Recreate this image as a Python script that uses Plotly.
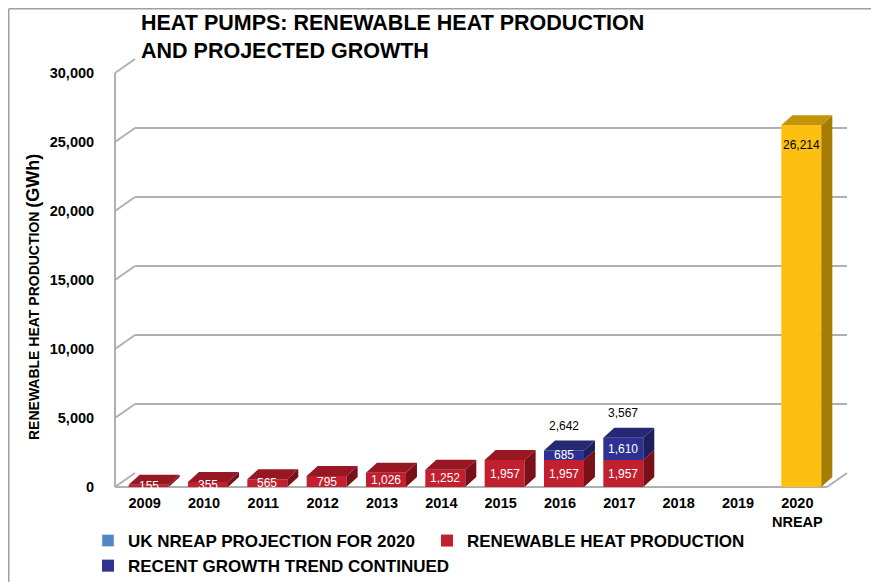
import plotly.graph_objects as go

# ---------------- data ----------------
years = ["2009", "2010", "2011", "2012", "2013", "2014", "2015", "2016", "2017", "2018", "2019", "2020<br>NREAP"]
production = [155, 355, 565, 795, 1026, 1252, 1957, 1957, 1957]          # 2009-2017
growth_years_idx = [7, 8]                                                 # 2016, 2017
growth = [685, 1610]
nreap_idx = [11]
nreap = [26214]
y_ticks = [0, 5000, 10000, 15000, 20000, 25000, 30000]

# ---------------- geometry / style ----------------
# the page body adds an 8px offset, so the figure is 8px smaller than the window
W, H = 871, 574
ML, MR, MT, MB = 107, 32, 51, 95
PW, PH = W - ML - MR, H - MT - MB          # 732 x 428
WALL_DX, WALL_DY = 20, 14                  # 3-D wall depth (px)
FRONT_W, FRONT_H = PW - WALL_DX, PH - WALL_DY
NCAT = len(years)
PX_X = FRONT_W / NCAT                      # px per category
YMAX = 30000
PX_Y = FRONT_H / YMAX                      # px per unit
BAR_W, BAR_OFF = 0.674, -0.27
BAR_DX = 11 / PX_X
BAR_DY = 10 / PX_Y

RED = ("#C3202F", "#7A1019", "#971723")
BLUE = ("#2E3192", "#1D1F5F", "#262874")
GOLD = ("#FDBF10", "#A67C03", "#C39405")
LEG_NREAP = "#4F86C6"
GRID = "#b0b0b0"
FONT = "Liberation Sans, Arial, sans-serif"

fig = go.Figure()

# dummy trace to materialise the back-wall axes (gridlines)
fig.add_trace(go.Scatter(x=[0], y=[0], xaxis="x", yaxis="y", mode="markers",
                         marker=dict(opacity=0), hoverinfo="skip", showlegend=False))

prod_x = list(range(len(production)))
growth_base = [production[i] for i in growth_years_idx]

# front faces
fig.add_trace(go.Bar(x=[None], y=[None], name="UK NREAP PROJECTION FOR 2020",
                     marker_color=LEG_NREAP, xaxis="x2", yaxis="y2", legendrank=1))
fig.add_trace(go.Bar(x=prod_x, y=production, name="RENEWABLE HEAT PRODUCTION",
                     marker=dict(color=RED[0], line=dict(width=0)), width=BAR_W, offset=BAR_OFF,
                     xaxis="x2", yaxis="y2", legendrank=2, hoverinfo="y"))
fig.add_trace(go.Bar(x=growth_years_idx, y=growth, base=growth_base, name="RECENT GROWTH TREND CONTINUED",
                     marker=dict(color=BLUE[0], line=dict(width=0)), width=BAR_W, offset=BAR_OFF,
                     xaxis="x2", yaxis="y2", legendrank=3, hoverinfo="y"))
fig.add_trace(go.Bar(x=nreap_idx, y=nreap, name="UK NREAP PROJECTION FOR 2020 ",
                     marker=dict(color=GOLD[0], line=dict(width=0)), width=BAR_W, offset=BAR_OFF,
                     xaxis="x2", yaxis="y2", showlegend=False, hoverinfo="y"))


def faces(xs, bases, tops, draw_top):
    sx, sy, tx, ty = [], [], [], []
    for x, b, t, dt in zip(xs, bases, tops, draw_top):
        x0 = x + BAR_OFF
        x1 = x0 + BAR_W
        sx += [x1, x1 + BAR_DX, x1 + BAR_DX, x1, x1, None]
        sy += [b, b + BAR_DY, t + BAR_DY, t, b, None]
        if dt:
            tx += [x0, x0 + BAR_DX, x1 + BAR_DX, x1, x0, None]
            ty += [t, t + BAR_DY, t + BAR_DY, t, t, None]
    return sx, sy, tx, ty


def add_faces(xs, bases, tops, draw_top, col):
    sx, sy, tx, ty = faces(xs, bases, tops, draw_top)
    fig.add_trace(go.Scatter(x=sx, y=sy, fill="toself", fillcolor=col[1], mode="lines",
                             line=dict(width=0, color=col[1]), xaxis="x2", yaxis="y2",
                             hoverinfo="skip", showlegend=False))
    if tx:
        fig.add_trace(go.Scatter(x=tx, y=ty, fill="toself", fillcolor=col[2], mode="lines",
                                 line=dict(width=0, color=col[2]), xaxis="x2", yaxis="y2",
                                 hoverinfo="skip", showlegend=False))


add_faces(prod_x, [0] * len(production), production,
          [i not in growth_years_idx for i in prod_x], RED)
add_faces(growth_years_idx, growth_base, [b + g for b, g in zip(growth_base, growth)],
          [True] * len(growth), BLUE)
add_faces(nreap_idx, [0], nreap, [True], GOLD)

# ---------------- labels ----------------
ann = []
cx = BAR_OFF + BAR_W / 2
for i, v in zip(prod_x, production):
    ann.append(dict(x=i + cx, y=v / 2, xref="x2", yref="y2", text=f"{v:,}", showarrow=False,
                    font=dict(family=FONT, size=12, color="white")))
for i, b, g in zip(growth_years_idx, growth_base, growth):
    ann.append(dict(x=i + cx, y=b + g / 2, xref="x2", yref="y2", text=f"{g:,}", showarrow=False,
                    font=dict(family=FONT, size=12, color="white")))
    ann.append(dict(x=i + cx, y=b + g, xref="x2", yref="y2", text=f"{b + g:,}", showarrow=False,
                    yshift=25, font=dict(family=FONT, size=12, color="black")))
for i, v in zip(nreap_idx, nreap):
    ann.append(dict(x=i + cx, y=v, xref="x2", yref="y2", text=f"{v:,}", showarrow=False,
                    yshift=-20, font=dict(family=FONT, size=12, color="black")))

# y-axis title
ann.append(dict(x=(25 - ML) / PW, y=(H - MB - 289) / PH, xref="paper", yref="paper",
                textangle=-90, showarrow=False, xanchor="center", yanchor="middle",
                text="<b>RENEWABLE HEAT PRODUCTION <span style='font-size:18px'>(GWh)</span></b>",
                font=dict(family=FONT, size=14, color="black")))

# ---------------- wall / floor edges ----------------
fx = FRONT_W / PW
fy = FRONT_H / PH
wdx = WALL_DX / PW
wdy = WALL_DY / PH
line = dict(color=GRID, width=2)
shapes = []
for t in y_ticks:
    yf = t / YMAX * fy
    shapes.append(dict(type="line", xref="paper", yref="paper", x0=0, y0=yf, x1=wdx, y1=yf + wdy,
                       line=line, layer="below"))
shapes += [
    dict(type="line", xref="paper", yref="paper", x0=0, y0=0, x1=0, y1=fy, line=line, layer="below"),
    dict(type="line", xref="paper", yref="paper", x0=0, y0=0, x1=fx, y1=0, line=line, layer="below"),
    dict(type="line", xref="paper", yref="paper", x0=fx, y0=0, x1=1, y1=wdy, line=line, layer="below"),
    # outer frame (left and top edges)
    dict(type="line", xref="paper", yref="paper", x0=(0.75 - ML) / PW, y0=(H - MB - 0.75) / PH,
         x1=(W - ML) / PW, y1=(H - MB - 0.75) / PH, line=dict(color="#a0a0a0", width=1.5)),
    dict(type="line", xref="paper", yref="paper", x0=(0.75 - ML) / PW, y0=(H - MB - 0.75) / PH,
         x1=(0.75 - ML) / PW, y1=-MB / PH, line=dict(color="#a0a0a0", width=1.5)),
]

fig.update_layout(
    width=W, height=H,
    margin=dict(l=ML, r=MR, t=MT, b=MB, autoexpand=False),
    paper_bgcolor="white", plot_bgcolor="rgba(0,0,0,0)",
    barmode="overlay",
    font=dict(family=FONT, color="black"),
    title=dict(text="<b>HEAT PUMPS: RENEWABLE HEAT PRODUCTION<br>AND PROJECTED GROWTH</b>",
               font=dict(family=FONT, size=21.5, color="black"),
               xref="container", x=133 / W, xanchor="left",
               yref="container", y=1 - 22 / H, yanchor="top"),
    # back wall axes (gridlines only)
    xaxis=dict(domain=[wdx, 1], anchor="y", range=[-0.5, NCAT - 0.5], visible=False),
    yaxis=dict(domain=[wdy, 1], anchor="x", range=[0, YMAX], tickvals=y_ticks,
               showgrid=True, gridcolor=GRID, gridwidth=2, zeroline=False,
               showticklabels=False, showline=False, ticks=""),
    # front axes (bars, tick labels)
    xaxis2=dict(domain=[0, 1], anchor="y2", range=[-0.5, -0.5 + PW / PX_X],
                tickvals=list(range(NCAT)), ticktext=[f"<b>{y}</b>" for y in years],
                tickfont=dict(family=FONT, size=14.5, color="black"),
                showgrid=False, zeroline=False, showline=False,
                ticks="outside", ticklen=3, tickcolor="rgba(0,0,0,0)"),
    yaxis2=dict(domain=[0, 1], anchor="x2", range=[0, YMAX * PH / FRONT_H],
                tickvals=y_ticks, ticktext=[f"<b>{t:,}</b>" for t in y_ticks],
                tickfont=dict(family=FONT, size=14.5, color="black"),
                showgrid=False, zeroline=False, showline=False,
                ticks="outside", ticklen=17, tickcolor="rgba(0,0,0,0)"),
    legend=dict(orientation="h", x=(80 - ML) / PW, xanchor="left",
                y=(H - MB - 515) / PH, yanchor="top",
                font=dict(family=FONT, size=17, color="black", weight="bold"),
                entrywidth=294, traceorder="normal", bgcolor="rgba(0,0,0,0)"),
    annotations=ann,
    shapes=shapes,
    showlegend=True,
)

fig.write_html("out.html")
